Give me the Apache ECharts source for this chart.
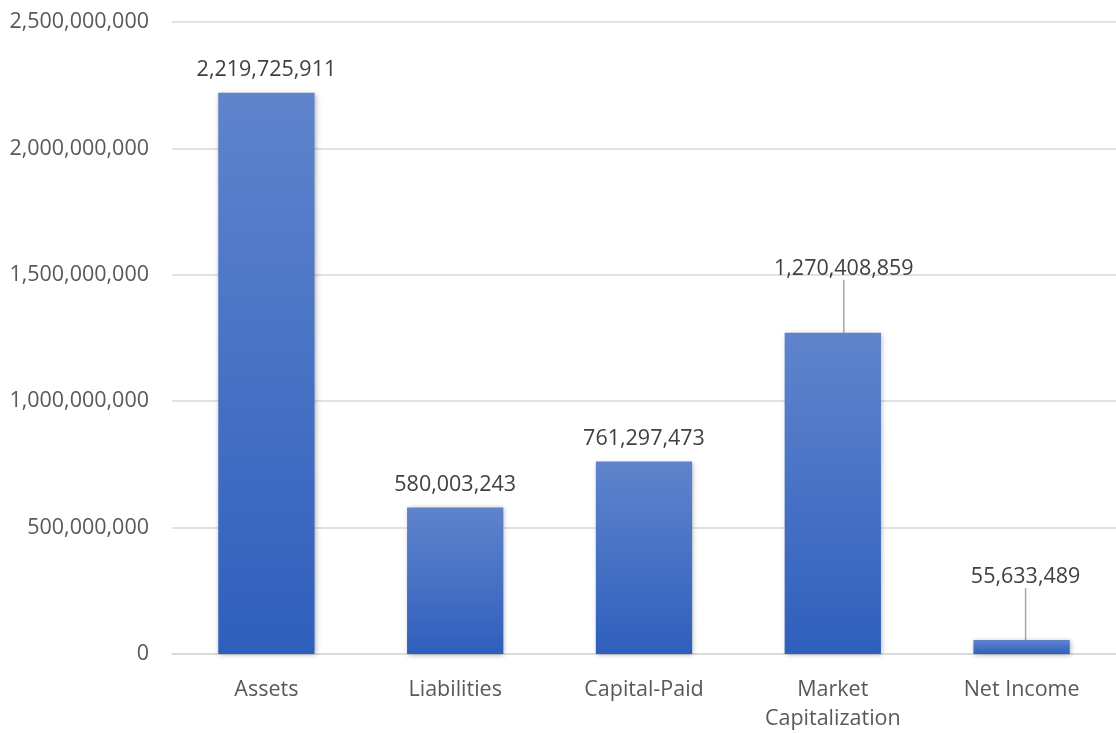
<!DOCTYPE html>
<html><head><meta charset="utf-8">
<script src="https://cdn.jsdelivr.net/npm/echarts@6/dist/echarts.min.js"></script>
<style>html,body{margin:0;padding:0;background:#fff;overflow:hidden}#c{width:1116px;height:733px}</style>
</head><body><div id="c"></div>
<script>
const categories = ['Assets', 'Liabilities', 'Capital-Paid', 'Market\nCapitalization', 'Net Income'];
const values = [2219725911, 580003243, 761297473, 1270408859, 55633489];
const yTicks = [0, 500000000, 1000000000, 1500000000, 2000000000, 2500000000];
const leaderIdx = [3, 4];

const fmt = v => v.toLocaleString('en-US');
const FONT = 'Open Sans';
const chart = echarts.init(document.getElementById('c'));
chart.setOption({
  animation: false,
  grid: { left: 172, right: 0, top: 22, bottom: 73, containLabel: false },
  xAxis: {
    type: 'category', data: categories,
    axisLine: { lineStyle: { color: '#D9D9D9', width: 1.5 } },
    axisTick: { show: false },
    axisLabel: { color: '#595959', fontFamily: FONT, fontSize: 21.5, margin: 21, lineHeight: 29 }
  },
  yAxis: {
    type: 'value', min: yTicks[0], max: yTicks[yTicks.length - 1], interval: 500000000,
    axisLine: { show: false }, axisTick: { show: false },
    splitLine: { lineStyle: { color: '#D9D9D9', width: 1.5 } },
    axisLabel: { color: '#595959', fontFamily: FONT, fontSize: 21.5, margin: 23, formatter: v => fmt(v) }
  },
  series: [{
    type: 'bar',
    data: values.map((v, i) => leaderIdx.includes(i) ? { value: v, labelLine: { show: true } } : { value: v }),
    barWidth: '51%',
    itemStyle: {
      color: new echarts.graphic.LinearGradient(0, 0, 0, 1, [
        { offset: 0, color: '#5F84CC' }, { offset: 1, color: '#2F5FBD' }
      ]),
      shadowBlur: 5, shadowColor: 'rgba(0,0,0,0.3)', shadowOffsetX: 1, shadowOffsetY: 1
    },
    label: { show: true, position: 'top', distance: 12, color: '#404040', fontFamily: FONT, fontSize: 21.5, formatter: p => fmt(p.value) },
    labelLine: { show: false, lineStyle: { color: '#A6A6A6', width: 1.5 } },
    labelLayout: function (p) {
      if (p.dataIndex === 3) return { dx: 11, dy: -41 };
      if (p.dataIndex === 4) return { dx: 4, dy: -40 };
      return {};
    }
  }]
});
</script></body></html>
